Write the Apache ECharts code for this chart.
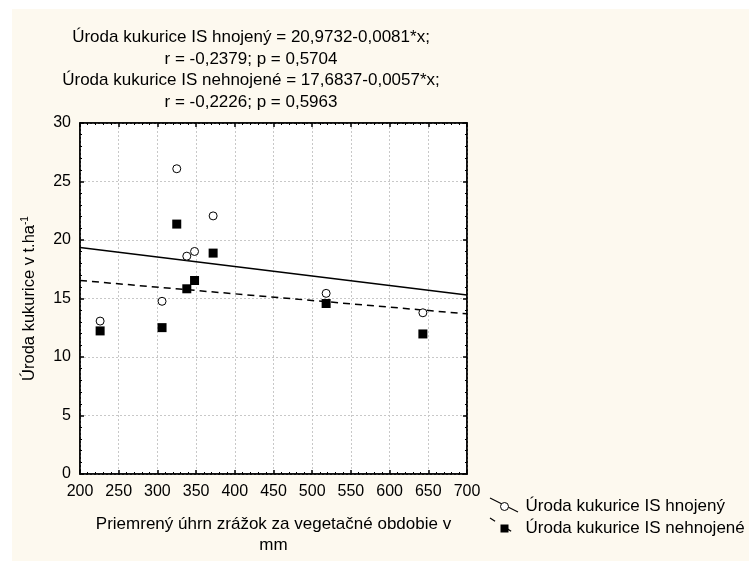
<!DOCTYPE html>
<html>
<head>
<meta charset="utf-8">
<script src="https://cdn.jsdelivr.net/npm/echarts@6/dist/echarts.min.js"></script>
<style>
html, body { margin: 0; padding: 0; background: #fff; }
#myChart { width: 749px; height: 561px; }
</style>
</head>
<body>
<div id="myChart"></div>
<script>
// zrážky (mm) pre každý rok
var rainfall = [226, 306, 325, 338, 348, 372, 518, 643];
// úroda - hnojené a nehnojené (t/ha)
var yieldFert = [13.07, 14.76, 26.09, 18.62, 19.02, 22.06, 15.44, 13.78];
var yieldUnfert = [12.23, 12.51, 21.36, 15.83, 16.54, 18.88, 14.57, 11.97];
// regresné priamky (koncové body pri x = 200 a 700)
var fitX = [200, 700];
var fitFert = [19.35, 15.30];
var fitUnfert = [16.54, 13.69];

var titleLines = [
    'Úroda kukurice IS hnojený = 20,9732-0,0081*x;',
    'r = -0,2379; p = 0,5704',
    'Úroda kukurice IS nehnojené = 17,6837-0,0057*x;',
    'r = -0,2226; p = 0,5963'
];
var nameFert = 'Úroda kukurice IS hnojený';
var nameUnfert = 'Úroda kukurice IS nehnojené';

function pairs(xs, ys) {
    return xs.map(function (x, i) { return [x, ys[i]]; });
}

var font = 'Liberation Sans, Arial, sans-serif';
var axisCommon = {
    axisLine: { show: true, onZero: false, lineStyle: { color: '#000', width: 1.5 } },
    axisTick: { show: true, inside: true, length: 4, lineStyle: { color: '#000', width: 1.5 } },
    minorTick: { show: true, splitNumber: 5, length: 2, lineStyle: { color: '#000', width: 1 } }
};

var myChart = echarts.init(document.getElementById('myChart'));
myChart.setOption({
    backgroundColor: '#fff',
    animation: false,
    textStyle: { fontFamily: font },
    graphic: [
        { type: 'rect', z: -10, silent: true, shape: { x: 12, y: 9, width: 737, height: 552 }, style: { fill: '#fdf9ef' } },
        { type: 'line', shape: { x1: 490, y1: 498, x2: 518, y2: 512 }, style: { stroke: '#000', lineWidth: 1.2 } },
        { type: 'line', shape: { x1: 490, y1: 518, x2: 517, y2: 535 }, style: { stroke: '#000', lineWidth: 1.2, lineDash: [6, 13] } }
    ],
    title: {
        text: titleLines.join('\n'),
        left: 246,
        top: 22,
        textAlign: 'center',
        textStyle: { fontSize: 17, fontWeight: 'normal', color: '#000', lineHeight: 21.5, fontFamily: font }
    },
    legend: {
        orient: 'vertical',
        left: 500,
        top: 498,
        padding: 0,
        itemWidth: 8,
        itemHeight: 8,
        itemGap: 5,
        textStyle: { fontSize: 17, color: '#000', padding: [0, 0, 0, 12], fontFamily: font },
        data: [
            { name: nameFert, icon: 'circle', itemStyle: { color: '#fff', borderColor: '#000', borderWidth: 1 } },
            { name: nameUnfert, icon: 'rect', itemStyle: { color: '#000', borderWidth: 0 } }
        ]
    },
    grid: {
        left: 80, right: 282, top: 123, bottom: 84,
        show: true, backgroundColor: '#fff', borderColor: '#000', borderWidth: 1.5
    },
    xAxis: [
        Object.assign({}, axisCommon, {
            type: 'value', min: 200, max: 700, interval: 50,
            name: 'Priemrený úhrn zrážok za vegetačné obdobie v\nmm',
            nameLocation: 'middle', nameGap: 40,
            nameTextStyle: { fontSize: 17, color: '#000', lineHeight: 21, fontFamily: font },
            axisLabel: { color: '#000', fontSize: 16, margin: 10, fontFamily: font },
            splitLine: { show: true, lineStyle: { color: '#c8c8c8', type: [2, 2], width: 1 } }
        }),
        Object.assign({}, axisCommon, {
            type: 'value', min: 200, max: 700, interval: 50, position: 'top',
            axisLabel: { show: false }, splitLine: { show: false }
        })
    ],
    yAxis: [
        Object.assign({}, axisCommon, {
            type: 'value', min: 0, max: 30, interval: 5,
            name: 'Úroda kukurice v t.ha{sup|-1}',
            nameLocation: 'middle', nameGap: 42,
            nameTextStyle: {
                fontSize: 16.5, color: '#000', fontFamily: font,
                rich: { sup: { fontSize: 10, verticalAlign: 'top', padding: [0, 0, 8, 0], color: '#000' } }
            },
            axisLabel: { color: '#000', fontSize: 16, margin: 9, fontFamily: font },
            splitLine: { show: true, lineStyle: { color: '#c8c8c8', type: [2, 2], width: 1 } }
        }),
        Object.assign({}, axisCommon, {
            type: 'value', min: 0, max: 30, interval: 5, position: 'right',
            axisLabel: { show: false }, splitLine: { show: false }
        })
    ],
    series: [
        {
            name: 'fitFert', type: 'line', data: pairs(fitX, fitFert),
            symbol: 'none', silent: true,
            lineStyle: { color: '#000', width: 1.5 }
        },
        {
            name: 'fitUnfert', type: 'line', data: pairs(fitX, fitUnfert),
            symbol: 'none', silent: true,
            lineStyle: { color: '#000', width: 1.5, type: [7, 5] }
        },
        {
            name: nameFert, type: 'scatter', data: pairs(rainfall, yieldFert),
            symbol: 'circle', symbolSize: 8, z: 3,
            itemStyle: { color: '#fff', borderColor: '#000', borderWidth: 1, opacity: 1 }
        },
        {
            name: nameUnfert, type: 'scatter', data: pairs(rainfall, yieldUnfert),
            symbol: 'rect', symbolSize: 9, z: 3,
            itemStyle: { color: '#000', opacity: 1 }
        }
    ]
});
</script>
</body>
</html>
